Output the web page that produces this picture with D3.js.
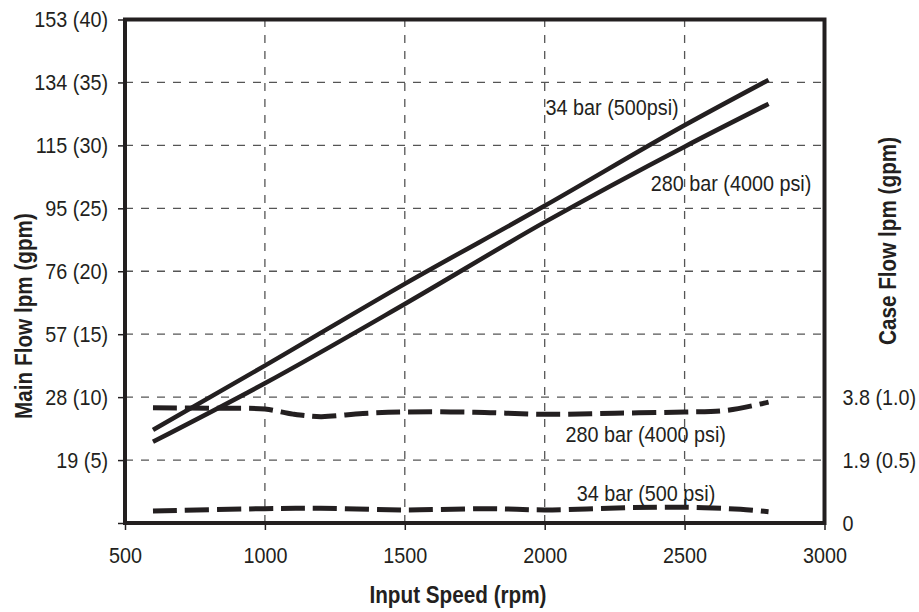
<!DOCTYPE html>
<html>
<head>
<meta charset="utf-8">
<script src="https://cdn.jsdelivr.net/npm/d3@7"></script>
<style>
  body { margin: 0; background: #fff; }
  svg { font-family: "Liberation Sans", Arial, sans-serif; }
</style>
</head>
<body>
<svg id="chart" width="919" height="612"></svg>
<script>
// main flow, gpm (left axis)
var rpmMain = [600, 1000, 1500, 2000, 2500, 2800];
var main34 = [7.4, 12.5, 19.0, 25.2, 31.6, 35.2];
var main280 = [6.45, 11.1, 17.4, 23.9, 29.9, 33.3];

// case flow, gpm (right axis)
var rpmCase280 = [600, 800, 1000, 1100, 1200, 1350, 1500, 1750, 2000, 2250, 2500, 2650, 2800];
var case280 = [0.915, 0.912, 0.905, 0.865, 0.845, 0.87, 0.882, 0.88, 0.864, 0.872, 0.882, 0.895, 0.96];
var rpmCase34 = [600, 1000, 1200, 1500, 1800, 2000, 2300, 2500, 2700, 2800];
var case34 = [0.096, 0.114, 0.117, 0.104, 0.114, 0.104, 0.122, 0.125, 0.109, 0.09];

var xTicks = [500, 1000, 1500, 2000, 2500, 3000];
var yTicks = [0, 5, 10, 15, 20, 25, 30, 35, 40];
var yTickLabels = ["", "19 (5)", "28 (10)", "57 (15)", "76 (20)", "95 (25)", "115 (30)", "134 (35)", "153 (40)"];
var caseTicks = [0, 0.5, 1.0];
var caseTickLabels = ["0", "1.9 (0.5)", "3.8 (1.0)"];

var ink = "#231f20";
var svg = d3.select("svg");

var x = d3.scaleLinear().domain([500, 3000]).range([125, 824.5]);
var y = d3.scaleLinear().domain([0, 40]).range([523, 19.5]);
var yCase = d3.scaleLinear().domain([0, 1]).range([y(0), y(10)]);

var fs = 22;
var sx = 0.9; // squeeze text to look like the condensed face

// squeeze text horizontally, keeping its anchor point
function narrow(sel) {
  sel.each(function(){
    var t = d3.select(this);
    var ox = +(t.attr("x") || 0);
    var tr = t.attr("transform") || "";
    t.attr("x", ox / sx).attr("transform", tr + " scale(" + sx + ",1)");
  });
}

// grid
var grid = svg.append("g");
grid.selectAll(".hg")
  .data(yTicks.filter(function(d){ return d > 0 && d < 40; }))
  .enter().append("line")
    .attr("x1", x(500)).attr("x2", x(3000))
    .attr("y1", function(d){ return y(d); })
    .attr("y2", function(d){ return y(d); })
    .attr("stroke", "#555").attr("stroke-width", 1.3)
    .attr("stroke-dasharray", "8,8");
grid.selectAll(".vg")
  .data(xTicks.filter(function(d){ return d > 500 && d < 3000; }))
  .enter().append("line")
    .attr("x1", function(d){ return x(d); })
    .attr("x2", function(d){ return x(d); })
    .attr("y1", y(0)).attr("y2", y(40))
    .attr("stroke", "#555").attr("stroke-width", 1.3)
    .attr("stroke-dasharray", "8,8");

// axes
var yAxis = d3.axisLeft(y).tickValues(yTicks)
  .tickFormat(function(d, i){ return yTickLabels[i]; })
  .tickSize(7).tickPadding(10);
var gy = svg.append("g").attr("transform", "translate(" + x(500) + ",0)").call(yAxis);

var xAxis = d3.axisBottom(x).tickValues(xTicks).tickFormat(d3.format("d"))
  .tickSize(7).tickPadding(17);
var gx = svg.append("g").attr("transform", "translate(0," + y(0) + ")").call(xAxis);

var rAxis = d3.axisRight(yCase).tickValues(caseTicks)
  .tickFormat(function(d, i){ return caseTickLabels[i]; })
  .tickSize(0).tickPadding(18);
var gr = svg.append("g").attr("transform", "translate(" + x(3000) + ",0)").call(rAxis);

[gx, gy, gr].forEach(function(g){
  g.select(".domain").remove();
  g.selectAll(".tick line").attr("stroke", ink).attr("stroke-width", 1.5);
  g.selectAll(".tick text").attr("fill", ink).style("font-size", fs + "px");
  g.attr("font-family", null).attr("font-size", null);
  narrow(g.selectAll(".tick text"));
});

// frame
svg.append("rect")
  .attr("x", x(500)).attr("y", y(40))
  .attr("width", x(3000) - x(500)).attr("height", y(0) - y(40))
  .attr("fill", "none").attr("stroke", ink).attr("stroke-width", 4);

// main flow lines
var lineMain = d3.line()
  .x(function(d){ return x(d[0]); })
  .y(function(d){ return y(d[1]); })
  .curve(d3.curveMonotoneX);

svg.append("path")
  .datum(d3.zip(rpmMain, main34))
  .attr("fill", "none").attr("stroke", ink).attr("stroke-width", 4.5)
  .attr("d", lineMain);
svg.append("path")
  .datum(d3.zip(rpmMain, main280))
  .attr("fill", "none").attr("stroke", ink).attr("stroke-width", 4.5)
  .attr("d", lineMain);

// case flow lines
var lineCase = d3.line()
  .x(function(d){ return x(d[0]); })
  .y(function(d){ return yCase(d[1]); })
  .curve(d3.curveCatmullRom);

svg.append("path")
  .datum(d3.zip(rpmCase280, case280))
  .attr("fill", "none").attr("stroke", ink).attr("stroke-width", 5)
  .attr("stroke-dasharray", "24,8")
  .attr("d", lineCase);
svg.append("path")
  .datum(d3.zip(rpmCase34, case34))
  .attr("fill", "none").attr("stroke", ink).attr("stroke-width", 5)
  .attr("stroke-dasharray", "24,8")
  .attr("d", lineCase);

// curve labels
function label(txt, px, py) {
  svg.append("text")
    .attr("x", px).attr("y", py)
    .attr("text-anchor", "middle")
    .attr("fill", ink)
    .style("font-size", fs + "px")
    .text(txt)
    .call(narrow);
}
label("34 bar (500psi)", x(2241), y(32.4));
label("280 bar (4000 psi)", x(2666), y(26.4));
label("280 bar (4000 psi)", x(2361), yCase(0.64));
label("34 bar (500 psi)", x(2362), yCase(0.178));

// axis titles
svg.append("text")
  .attr("x", 458).attr("y", 603)
  .attr("text-anchor", "middle").attr("fill", ink)
  .style("font-size", "23px").style("font-weight", "bold")
  .text("Input Speed (rpm)")
  .call(narrow);

svg.append("text")
  .attr("transform", "translate(32,316) rotate(-90)")
  .attr("text-anchor", "middle").attr("fill", ink)
  .style("font-size", "23px").style("font-weight", "bold")
  .text("Main Flow lpm (gpm)")
  .call(narrow);

svg.append("text")
  .attr("transform", "translate(896,241) rotate(-90)")
  .attr("text-anchor", "middle").attr("fill", ink)
  .style("font-size", "23px").style("font-weight", "bold")
  .text("Case Flow lpm (gpm)")
  .call(narrow);
</script>
</body>
</html>
